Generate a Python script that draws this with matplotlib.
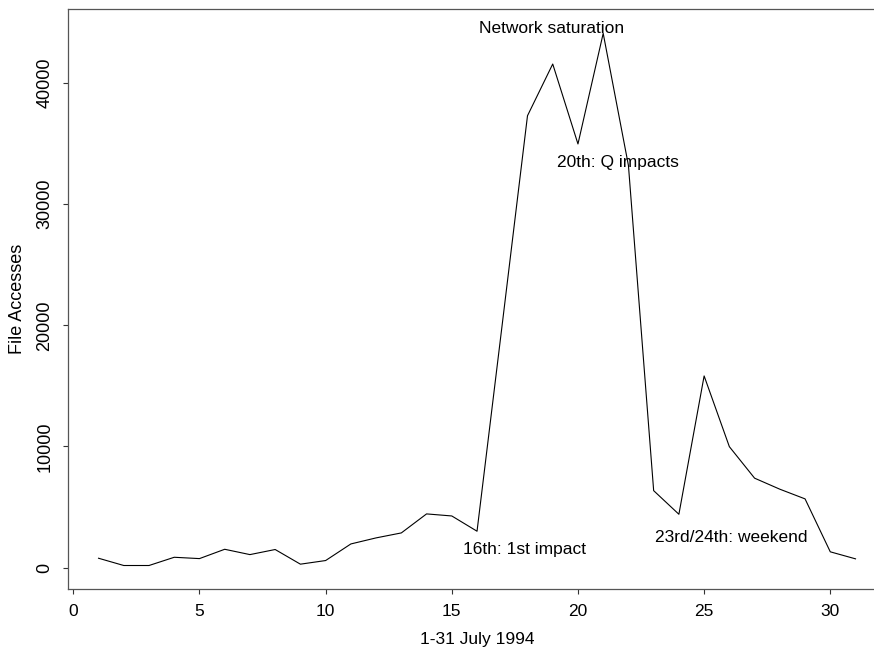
import matplotlib
matplotlib.use("Agg")
import matplotlib.pyplot as plt

plt.rcParams['font.family'] = ['Liberation Sans', 'DejaVu Sans']

days = list(range(1, 32))
accesses = [770, 170, 170, 850, 740, 1510, 1070, 1490, 280, 580,
            1950, 2450, 2860, 4430, 4260, 3000, 20100, 37300, 41570, 34970,
            44100, 33200, 6350, 4400, 15820, 9980, 7380, 6470, 5670, 1300, 720]

xticks = [0, 5, 10, 15, 20, 25, 30]
yticks = [0, 10000, 20000, 30000, 40000]

notes = ["Network saturation", "20th: Q impacts", "16th: 1st impact", "23rd/24th: weekend"]
note_x = [18.96, 21.59, 17.88, 26.06]
note_y = [44510, 33450, 1460, 2510]

fig = plt.figure(figsize=(8.74, 6.53), dpi=100)
ax = fig.add_axes([0.0781, 0.098, 0.9354, 0.888])
ax.plot(days, accesses, color='black', linewidth=0.8)
ax.set_xlim(-0.2, 32.2)
ax.set_ylim(-1770, 46100)
ax.set_xticks(xticks)
ax.set_yticks(yticks)
ax.set_xticklabels([str(v) for v in xticks], fontsize=12.5)
ax.set_yticklabels([str(v) for v in yticks], rotation=90, va='center', fontsize=13)
ax.tick_params(axis='x', length=3.6, width=0.8, color='#333333', pad=7)
ax.tick_params(axis='y', length=3.6, width=0.8, color='#333333', pad=7)
for s in ax.spines.values():
    s.set_linewidth(0.9)
    s.set_color('#555555')
ax.spines['right'].set_visible(False)
ax.set_xlabel("1-31 July 1994", fontsize=12.5, va='center')
ax.set_ylabel("File Accesses", fontsize=13, va='center')
ax.xaxis.set_label_coords(0.5, -0.0879)
ax.yaxis.set_label_coords(-0.0621, 0.5)
for t, xx, yy in zip(notes, note_x, note_y):
    ax.text(xx, yy, t, ha='center', va='center', fontsize=12.5)

fig.savefig("out.png", dpi=100)
